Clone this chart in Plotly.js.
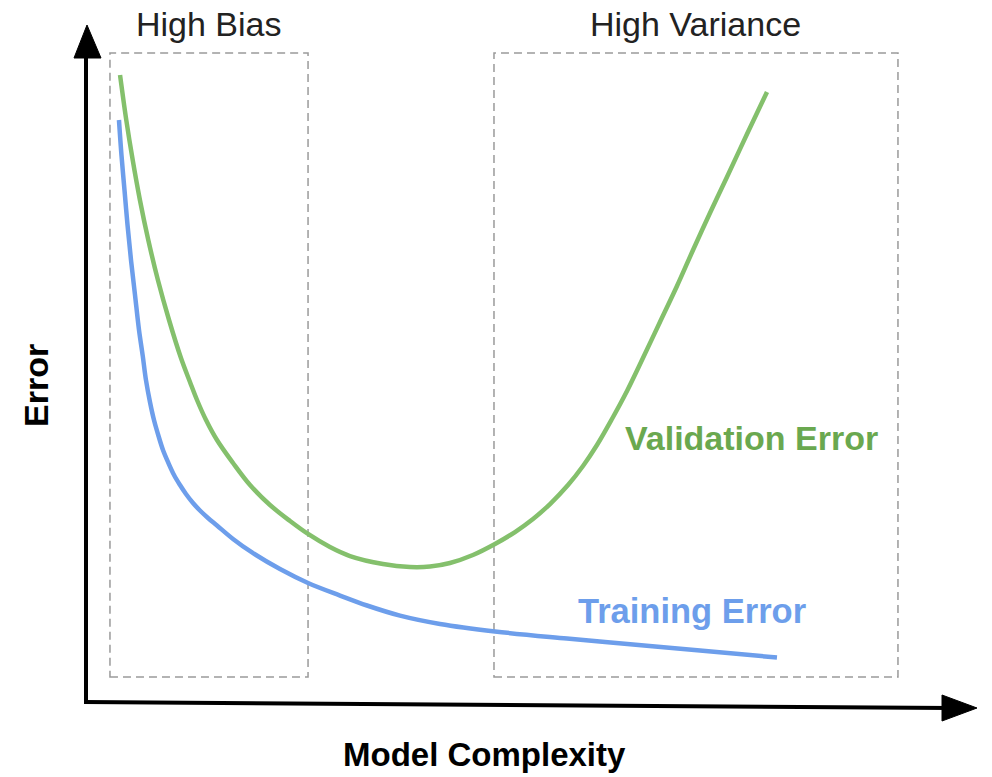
<!DOCTYPE html>
<html>
<head>
<meta charset="utf-8">
<script src="https://cdn.plot.ly/plotly-3.0.1.min.js"></script>
<style>html,body{margin:0;padding:0;background:#fff;}#chart{width:992px;height:777px;}</style>
</head>
<body>
<div id="chart"></div>
<script>
// ---- data (model complexity vs error, arbitrary units 0-100) ----
const validationX = [3.82, 4.52, 5.24, 6.05, 6.99, 8.07, 9.32, 10.66, 11.67, 12.46, 13.47, 14.70, 16.50, 18.41, 20.65, 22.90, 24.92, 27.38, 29.63, 33.33, 36.36, 38.61, 40.85, 43.43, 45.90, 48.15, 50.17, 52.08, 54.10, 55.78, 57.35, 59.03, 60.72, 62.51, 64.42, 66.33, 68.13, 70.03, 71.94, 74.19, 76.43];
const validationY = [92.63, 85.99, 80.09, 74.19, 68.29, 62.39, 56.49, 50.88, 47.35, 44.69, 41.74, 38.79, 35.40, 32.15, 29.20, 26.84, 24.93, 23.01, 21.68, 20.50, 20.06, 20.13, 20.65, 21.83, 23.45, 25.22, 27.14, 29.35, 32.15, 34.96, 38.05, 41.89, 46.02, 50.88, 56.19, 61.50, 66.81, 72.27, 77.58, 83.92, 90.12];
const trainingX = [3.70, 3.98, 4.32, 4.66, 5.05, 5.50, 5.95, 6.37, 6.73, 7.18, 7.63, 8.14, 8.64, 9.20, 9.88, 10.55, 11.22, 12.01, 12.79, 13.69, 14.70, 16.50, 18.63, 21.77, 24.92, 28.51, 31.54, 35.24, 39.73, 45.90, 53.98, 61.39, 68.91, 77.55];
const trainingY = [85.99, 80.83, 75.66, 70.50, 65.34, 60.18, 55.01, 51.18, 47.64, 44.40, 41.74, 39.38, 37.32, 35.55, 33.63, 32.15, 30.83, 29.50, 28.39, 27.29, 26.18, 24.19, 22.20, 19.76, 17.70, 15.85, 14.38, 12.89, 11.66, 10.55, 9.51, 8.63, 7.74, 6.71];
const regionNames = ["High Bias", "High Variance"];
const regionX0 = [2.69, 45.79];
const regionX1 = [24.92, 91.13];
const regionY0 = [3.83, 3.83];
const regionY1 = [95.87, 95.87];
const seriesNames = ["Validation Error", "Training Error"];
const axisTitles = {x: "Model Complexity", y: "Error"};

// ---- layout helpers (pixel -> axis units for decorations) ----
const W = 992, H = 777;
const PX0 = 86, PX1 = 977, PY0 = 703, PY1 = 25;
const sx = (PX1 - PX0) / 100, sy = (PY0 - PY1) / 100;
const X = px => (px - PX0) / sx;
const Y = py => (PY0 - py) / sy;

const green = "#84c06c", greenText = "#6aa84f", blue = "#6d9eeb";
const fontFam = "Liberation Sans, Arial, sans-serif";

const traces = [
  {x: validationX, y: validationY, name: seriesNames[0], mode: "lines",
   line: {color: green, width: 4.5, shape: "spline", smoothing: 1}, hoverinfo: "skip"},
  {x: trainingX, y: trainingY, name: seriesNames[1], mode: "lines",
   line: {color: blue, width: 4.5, shape: "spline", smoothing: 1}, hoverinfo: "skip"}
];

const shapes = [];
regionNames.forEach((n, i) => {
  shapes.push({type: "rect", xref: "x", yref: "y", x0: regionX0[i], x1: regionX1[i], y0: regionY0[i], y1: regionY1[i],
    line: {color: "#9a9a9a", width: 1.5, dash: "8px,5px"}, fillcolor: "rgba(0,0,0,0)", layer: "below"});
});
// axes with arrows
shapes.push({type: "line", xref: "x", yref: "y", x0: X(86), y0: Y(704), x1: X(86), y1: Y(50), line: {color: "#000", width: 4}});
shapes.push({type: "line", xref: "x", yref: "y", x0: X(84), y0: Y(702), x1: X(950), y1: Y(708), line: {color: "#000", width: 4}});
shapes.push({type: "path", xref: "x", yref: "y",
  path: `M ${X(87)} ${Y(25)} L ${X(74)} ${Y(58)} L ${X(101)} ${Y(58)} Z`, fillcolor: "#000", line: {color: "#000", width: 1}});
shapes.push({type: "path", xref: "x", yref: "y",
  path: `M ${X(977)} ${Y(708)} L ${X(942)} ${Y(695)} L ${X(942)} ${Y(721)} Z`, fillcolor: "#000", line: {color: "#000", width: 1}});

const annotations = [
  {x: (regionX0[0] + regionX1[0]) / 2, y: Y(24), text: regionNames[0], showarrow: false, xanchor: "center", yanchor: "middle",
   font: {family: fontFam, size: 34, color: "#222"}},
  {x: (regionX0[1] + regionX1[1]) / 2, y: Y(24), text: regionNames[1], showarrow: false, xanchor: "center", yanchor: "middle",
   font: {family: fontFam, size: 34, color: "#222"}},
  {x: X(751), y: Y(438), text: "<b>" + seriesNames[0] + "</b>", showarrow: false, xanchor: "center", yanchor: "middle",
   font: {family: fontFam, size: 34, color: greenText}},
  {x: X(692), y: Y(611), text: "<b>" + seriesNames[1] + "</b>", showarrow: false, xanchor: "center", yanchor: "middle",
   font: {family: fontFam, size: 34.5, color: blue}},
  {x: X(484), y: Y(754), text: "<b>" + axisTitles.x + "</b>", showarrow: false, xanchor: "center", yanchor: "middle",
   font: {family: fontFam, size: 33, color: "#000"}},
  {x: X(36), y: Y(386), text: "<b>" + axisTitles.y + "</b>", showarrow: false, xanchor: "center", yanchor: "middle", textangle: -90,
   font: {family: fontFam, size: 34, color: "#000"}}
];

const layout = {
  width: W, height: H,
  margin: {l: 0, r: 0, t: 0, b: 0, pad: 0},
  paper_bgcolor: "#fff", plot_bgcolor: "#fff",
  showlegend: false,
  xaxis: {range: [X(0), X(W)], visible: false, fixedrange: true},
  yaxis: {range: [Y(H), Y(0)], visible: false, fixedrange: true},
  shapes: shapes,
  annotations: annotations,
  hovermode: false
};

Plotly.newPlot("chart", traces, layout, {displayModeBar: false, staticPlot: true});
</script>
</body>
</html>
